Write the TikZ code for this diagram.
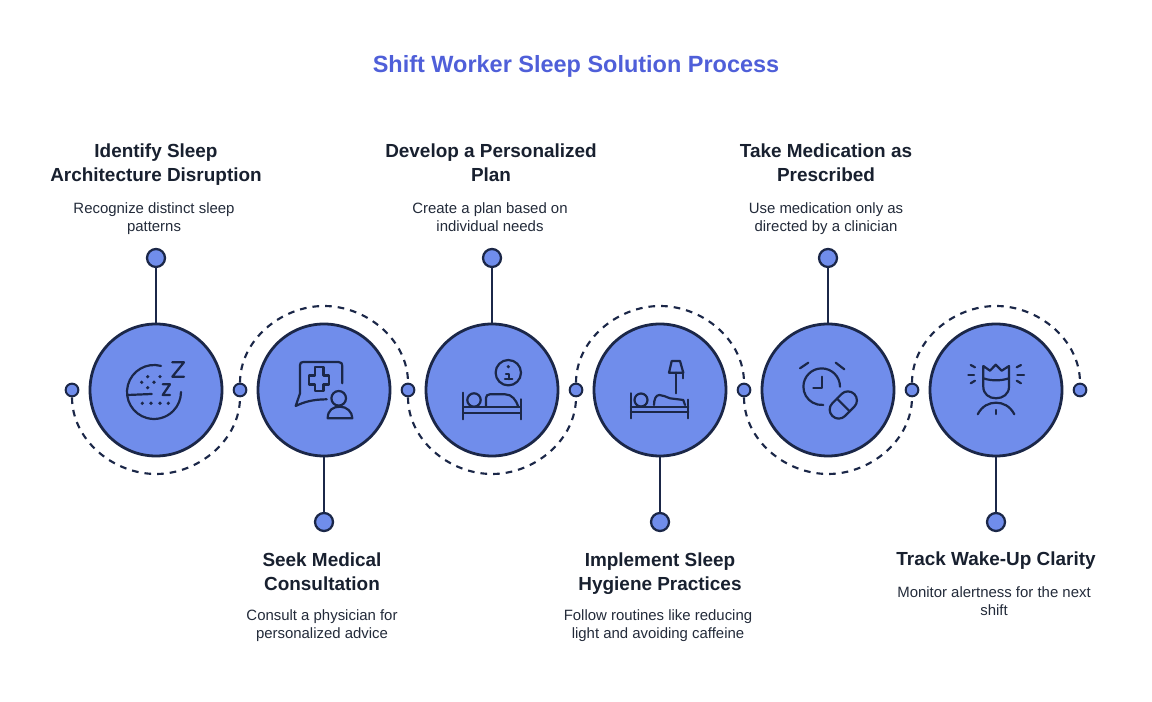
\documentclass[tikz,border=0pt]{standalone}
\usepackage{fontspec}
\setmainfont{Liberation Sans}
\definecolor{inkline}{HTML}{1B2748}
\definecolor{discfill}{HTML}{708DEB}
\definecolor{titleblue}{HTML}{4F5FD9}
\definecolor{headtext}{HTML}{18202F}
\definecolor{bodytext}{HTML}{232B3A}
\tikzset{
	disc/.style={circle,draw=inkline,fill=discfill,line width=2.1pt,minimum size=99pt,inner sep=0pt},%
	tipdot/.style={circle,draw=inkline,fill=discfill,line width=1.7pt,minimum size=13.5pt,inner sep=0pt},%
	waydot/.style={circle,draw=inkline,fill=discfill,line width=1.5pt,minimum size=9.5pt,inner sep=0pt},%
	stem/.style={draw=inkline,line width=2pt},%
	wave/.style={draw=inkline,line width=1.6pt,dash pattern=on 5pt off 4.5pt},%
	go down/.style={out=-90,in=180,distance=32pt},%
	come up/.style={out=0,in=-90,distance=32pt},%
	go up/.style={out=90,in=180,distance=32pt},%
	come down/.style={out=0,in=90,distance=32pt},%
	icon/.style={draw=inkline,line width=1.65pt,line cap=round,line join=round},%
	icon dot/.style={fill=inkline,draw=none},%
	maintitle/.style={font=\fontsize{17.6}{22}\selectfont\bfseries,text=titleblue},%
	heading/.style={font=\fontsize{14.2}{18}\selectfont\bfseries,text=headtext,align=center},%
	detail/.style={font=\fontsize{11.2}{13.5}\selectfont,text=bodytext,align=center},%
}
\begin{document}
\begin{tikzpicture}[x=0.75pt,y=0.75pt]
		\useasboundingbox[fill=white] (0,-312) rectangle (1152,390);
		\node[maintitle] (title) at (576,324) {Shift Worker Sleep Solution Process};
		% dots on the wave
		\node[waydot] (w0) at (72,0) {};
		\node[waydot] (w1) at (240,0) {};
		\node[waydot] (w2) at (408,0) {};
		\node[waydot] (w3) at (576,0) {};
		\node[waydot] (w4) at (744,0) {};
		\node[waydot] (w5) at (912,0) {};
		\node[waydot] (w6) at (1080,0) {};
		\coordinate (m1) at (156,-84);
		\coordinate (m2) at (324,84);
		\coordinate (m3) at (492,-84);
		\coordinate (m4) at (660,84);
		\coordinate (m5) at (828,-84);
		\coordinate (m6) at (996,84);
		\draw[wave] (w0.south) to[go down] (m1) to[come up] (w1.south);
		\draw[wave] (w1.north) to[go up] (m2) to[come down] (w2.north);
		\draw[wave] (w2.south) to[go down] (m3) to[come up] (w3.south);
		\draw[wave] (w3.north) to[go up] (m4) to[come down] (w4.north);
		\draw[wave] (w4.south) to[go down] (m5) to[come up] (w5.south);
		\draw[wave] (w5.north) to[go up] (m6) to[come down] (w6.north);
		% discs
		\node[disc] (c1) at (156,0) {};
		\node[disc] (c2) at (324,0) {};
		\node[disc] (c3) at (492,0) {};
		\node[disc] (c4) at (660,0) {};
		\node[disc] (c5) at (828,0) {};
		\node[disc] (c6) at (996,0) {};
		% end dots
		\node[tipdot] (t1) at (156,132) {};
		\node[tipdot] (t2) at (324,-132) {};
		\node[tipdot] (t3) at (492,132) {};
		\node[tipdot] (t4) at (660,-132) {};
		\node[tipdot] (t5) at (828,132) {};
		\node[tipdot] (t6) at (996,-132) {};
		\foreach \i in {1,...,6} {
			\draw[stem] (c\i) -- (t\i);
		}
		% texts
		\node[heading] (h1) at (156,225) {Identify Sleep\\Architecture Disruption};
		\node[detail] (b1) at (154,171) {Recognize distinct sleep\\patterns};
		\node[heading] (h2) at (322,-182) {Seek Medical\\Consultation};
		\node[detail] (b2) at (322,-236) {Consult a physician for\\personalized advice};
		\node[heading] (h3) at (491,227) {Develop a Personalized\\Plan};
		\node[detail] (b3) at (490,173) {Create a plan based on\\individual needs};
		\node[heading] (h4) at (660,-184) {Implement Sleep\\Hygiene Practices};
		\node[detail] (b4) at (658,-236) {Follow routines like reducing\\light and avoiding caffeine};
		\node[heading] (h5) at (826,227) {Take Medication as\\Prescribed};
		\node[detail] (b5) at (826,171) {Use medication only as\\directed by a clinician};
		\node[heading] (h6) at (996,-171) {Track Wake-Up Clarity};
		\node[detail] (b6) at (994,-211) {Monitor alertness for the next\\shift};
		% sleep icon
		\begin{scope}[shift={(c1.center)}]
			\draw[icon] (-2,-2) ++(75:27) arc (75:360:27);
			\draw[icon] (16.3,27.7) -- (28,27.7) -- (16.3,13.3) -- (28,13.3);
			\draw[icon] (6.7,5.7) -- (14,5.7) -- (6.7,-5) -- (14,-5);
			\draw[icon] (-28.3,-5) -- (-4.3,-4);
			\foreach \p in {(-8.3,13.3),(4,13.3),(-14.3,7.7),(-2,7.7),(-8.3,2.3),(-13.7,-13.3),(-5,-13.3),(4,-13.3),(12.3,-13.3)} {
				\fill[icon dot] \p circle (1.8);
			}
		\end{scope}
		% consultation icon
		\begin{scope}[shift={(c2.center)}]
			\draw[icon] (18.3,6.7) -- (18.3,23) .. controls (18.3,27) and (17,28) .. (14.3,28) -- (-20.7,28) .. controls (-23,28) and (-24,27) .. (-24,25) -- (-24,-3.3) -- (-28.3,-16) .. controls (-20,-12) and (-12,-9.5) .. (2.7,-9.3);
			\draw[icon] (-9,23) -- (-0.5,23) -- (-0.5,14.5) -- (5.3,14.5) -- (5.3,5.5) -- (-0.5,5.5) -- (-0.5,-1) -- (-9,-1) -- (-9,5.5) -- (-14.7,5.5) -- (-14.7,14.5) -- (-9,14.5) -- cycle;
			\draw[icon] (14.7,-8.3) circle (7.3);
			\draw[icon] (3.7,-28.3) .. controls (3.7,-20) and (9,-16.7) .. (16,-16.7) .. controls (23,-16.7) and (28.3,-22) .. (28.3,-28.3) -- cycle;
		\end{scope}
		% bed with info icon
		\begin{scope}[shift={(c3.center)}]
			\draw[icon] (16.3,17.3) circle (12.7);
			\fill[icon dot] (16.3,23.3) circle (1.8);
			\draw[icon] (14,16) -- (16.7,16) -- (16.7,10.7);
			\draw[icon] (13,10.7) -- (20.3,10.7);
			\draw[icon] (-28.7,-2.7) -- (-28.7,-29.3);
			\draw[icon] (28.7,-9.3) -- (28.7,-29.3);
			\draw[icon] (-28.7,-17.3) -- (28.7,-17.3);
			\draw[icon] (-28.7,-23.3) -- (28.7,-23.3);
			\draw[icon] (-18,-10) circle (6.7);
			\draw[icon] (-6,-16.5) -- (-6,-8) .. controls (-6,-5.5) and (-4.5,-4.3) .. (-2,-4.3) -- (13,-4.3) .. controls (20,-4.3) and (24,-10) .. (26.3,-16.7);
		\end{scope}
		% bed with lamp icon
		\begin{scope}[shift={(c4.center)}]
			\draw[icon] (11.7,29) -- (20,29) -- (23.3,17.3) -- (9,17.3) -- cycle;
			\draw[icon] (16,17.3) -- (16,-3.3);
			\draw[icon] (23.3,17.3) -- (23.3,11.7);
			\draw[icon] (-29,-3.3) -- (-29,-28.3);
			\draw[icon] (28.3,-9.7) -- (28.3,-28.3);
			\draw[icon] (-29,-16.7) -- (28.3,-16.7);
			\draw[icon] (-29,-22) -- (28.3,-22);
			\draw[icon] (-19,-10) circle (6.5);
			\draw[icon] (-6,-15) .. controls (-6,-9) and (-4,-5) .. (-0.7,-5) .. controls (3,-5) and (6,-7) .. (10,-8.3) -- (23.3,-10) -- (25,-15);
		\end{scope}
		% clock and pill icon
		\begin{scope}[shift={(c5.center)}]
			\draw[icon] (-6.3,3.3) ++(0:18.3) arc (0:275:18.3);
			\draw[icon] (-6.3,13.3) -- (-6.3,2.3) -- (-14.7,2.3);
			\draw[icon] (-28,21.7) -- (-19.7,27.3);
			\draw[icon] (7.7,27.3) -- (16.3,20.7);
			\begin{scope}[shift={(15.3,-15)},rotate=45]
				\draw[icon,rounded corners=6.7pt] (-15.5,-9) rectangle (15.5,9);
				\draw[icon] (0,-9) -- (0,9);
			\end{scope}
		\end{scope}
		% wake-up icon
		\begin{scope}[shift={(c6.center)}]
			\draw[icon] (-12.7,3.3) -- (-12.7,24) -- (-6,19.3) -- (-0.3,25.3) -- (5.7,19.3) -- (13,24) -- (13,3.3) .. controls (13,-4) and (7,-8.3) .. (0,-8.3) .. controls (-7,-8.3) and (-12.7,-4) .. (-12.7,3.3);
			\draw[icon] (-12.7,11.7) .. controls (-5,9) and (5,9) .. (13,11.7);
			\draw[icon] (-18.3,-24.3) .. controls (-14,-16) and (-7,-12.7) .. (0,-12.7) .. controls (7,-12.7) and (14,-16) .. (18.3,-24.3);
			\draw[icon] (0,-20) -- (0,-24);
			\draw[icon] (-25.3,25) -- (-21,22.7);
			\draw[icon] (-27.7,15) -- (-22,15);
			\draw[icon] (-25.3,6.7) -- (-21,9.3);
			\draw[icon] (20.7,22.7) -- (25,25);
			\draw[icon] (21.3,15) -- (28,15);
			\draw[icon] (20.7,9.3) -- (25,6.7);
		\end{scope}
	\end{tikzpicture}
\end{document}
